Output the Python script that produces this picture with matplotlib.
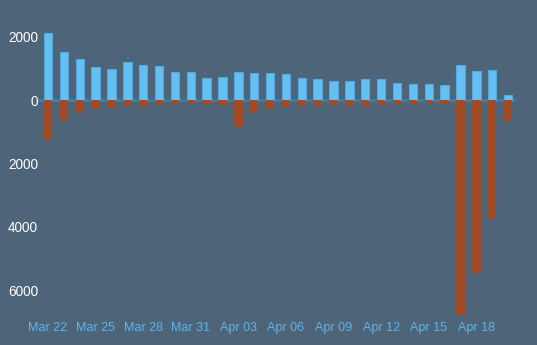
import matplotlib
matplotlib.use("Agg")
import matplotlib.pyplot as plt
from matplotlib.ticker import FuncFormatter

# daily values, Mar 22 .. Apr 20
dates = ["Mar 22", "Mar 23", "Mar 24", "Mar 25", "Mar 26", "Mar 27", "Mar 28",
         "Mar 29", "Mar 30", "Mar 31", "Apr 01", "Apr 02", "Apr 03", "Apr 04",
         "Apr 05", "Apr 06", "Apr 07", "Apr 08", "Apr 09", "Apr 10", "Apr 11",
         "Apr 12", "Apr 13", "Apr 14", "Apr 15", "Apr 16", "Apr 17", "Apr 18",
         "Apr 19", "Apr 20"]
positive = [2120, 1500, 1290, 1040, 965, 1200, 1090, 1080, 890, 880,
            690, 735, 880, 850, 865, 830, 690, 660, 590, 610,
            670, 670, 525, 515, 505, 465, 1100, 925, 935, 160]
negative = [-1260, -660, -420, -295, -240, -180, -210, -160, -125, -105,
            -115, -145, -850, -410, -285, -230, -190, -180, -160, -200,
            -190, -160, -115, -115, -105, -115, -6790, -5450, -3750, -670]
tick_labels = ["Mar 22", "Mar 25", "Mar 28", "Mar 31", "Apr 03",
               "Apr 06", "Apr 09", "Apr 12", "Apr 15", "Apr 18"]

bg = "#4E6479"
plt.rcParams["font.family"] = ["Liberation Sans", "DejaVu Sans"]

fig = plt.figure(figsize=(5.37, 3.45), dpi=100, facecolor=bg)
ax = fig.add_axes([38 / 537, 27 / 345, 478 / 537, 290 / 345], facecolor=bg)

x = list(range(len(dates)))
ax.axhline(0, color="#3C7FA8", linewidth=2, zorder=1)
ax.bar(x, positive, width=0.53, color="#64BFF3", edgecolor="#55A8DA",
       linewidth=0.8, zorder=2)
ax.bar(x, negative, width=0.53, color="#A14B25", linewidth=0, zorder=2)

ax.set_xlim(-0.63, 29.5)
ax.set_ylim(-6870, 2270)

ax.set_xticks([dates.index(t) for t in tick_labels])
ax.set_xticklabels(tick_labels)
ax.set_yticks([2000, 0, -2000, -4000, -6000])
ax.yaxis.set_major_formatter(FuncFormatter(lambda v, p: f"{abs(v):.0f}"))

ax.tick_params(axis="x", colors="#5DB5EA", labelsize=9.0, length=0, pad=3)
ax.tick_params(axis="y", colors="white", labelsize=9.8, length=0, pad=0)
for s in ax.spines.values():
    s.set_visible(False)

fig.savefig("out.png", dpi=100, facecolor=bg)
